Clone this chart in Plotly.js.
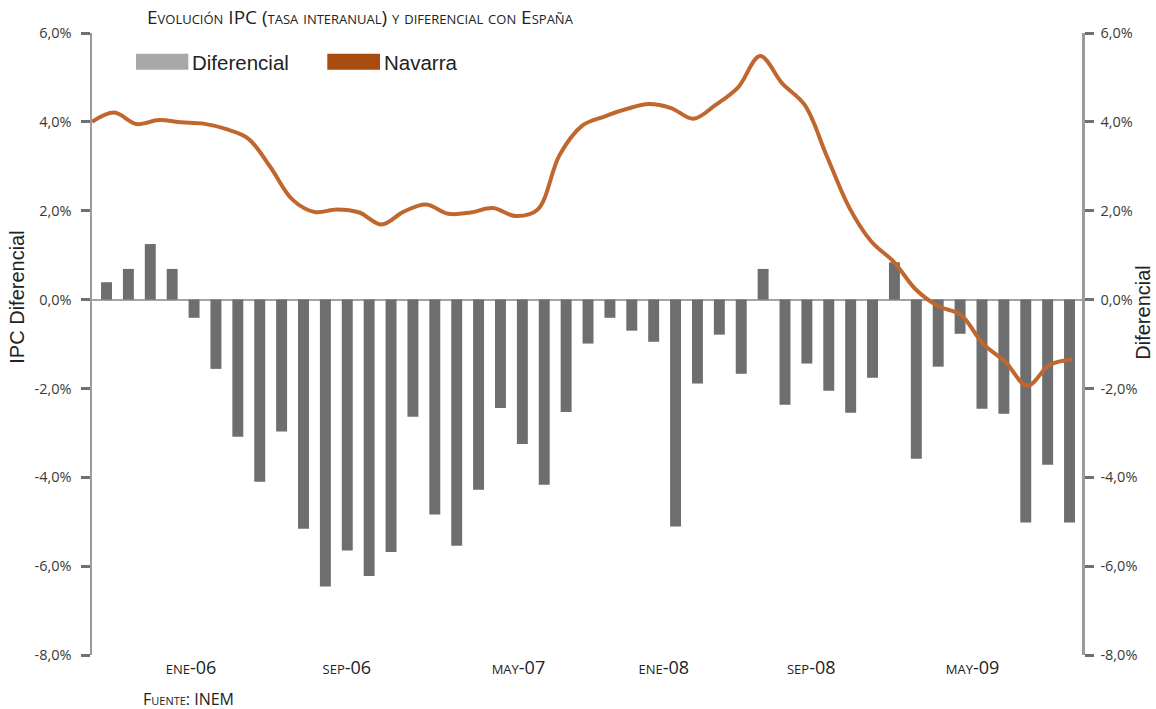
<!DOCTYPE html>
<html>
<head>
<meta charset="utf-8">
<script src="https://cdn.plot.ly/plotly-3.0.1.min.js"></script>
<style>
  html, body { margin: 0; padding: 0; background: #ffffff; }
  #chart { width: 1156px; height: 709px; }
</style>
</head>
<body>
<div id="chart"></div>
<script>
// Period index (one per observation)
const periodos = [0,1,2,3,4,5,6,7,8,9,10,11,12,13,14,15,16,17,18,19,20,21,22,23,24,25,26,27,28,29,30,31,32,33,34,35,36,37,38,39,40,41,42,43,44];

// Diferencial (bars, %)
const diferencial = [0.39, 0.69, 1.25, 0.69, -0.41, -1.56, -3.09, -4.10, -2.97, -5.16,
  -6.46, -5.65, -6.22, -5.68, -2.64, -4.84, -5.54, -4.28, -2.44, -3.25,
  -4.17, -2.53, -0.99, -0.41, -0.70, -0.95, -5.11, -1.89, -0.79, -1.67,
  0.69, -2.37, -1.44, -2.05, -2.55, -1.76, 0.84, -3.58, -1.51, -0.77,
  -2.46, -2.57, -5.02, -3.72, -5.02];

// Navarra IPC (line, %)
const navarra = [4.00, 4.21, 3.95, 4.04, 3.99, 3.96, 3.84, 3.63, 2.99, 2.25,
  1.97, 2.03, 1.96, 1.69, 1.98, 2.14, 1.93, 1.96, 2.06, 1.88,
  2.02, 3.26, 3.91, 4.12, 4.29, 4.40, 4.31, 4.07, 4.38, 4.77,
  5.48, 4.86, 4.38, 3.22, 2.07, 1.30, 0.85, 0.22, -0.15, -0.34,
  -0.99, -1.40, -1.94, -1.47, -1.35];

// X tick labels and where they sit on the period scale
const xTickLabels = ['ene-06', 'sep-06', 'may-07', 'ene-08', 'sep-08', 'may-09'];
const xTickPos = [3.86, 10.98, 18.82, 25.46, 32.2, 39.57];

// Y ticks
const yTickVals = [-8, -6, -4, -2, 0, 2, 4, 6];
const yTickLabels = ['-8,0%', '-6,0%', '-4,0%', '-2,0%', '0,0%', '2,0%', '4,0%', '6,0%'];

const barColor = '#6d6e70';
const legendBarColor = '#a7a8aa';
const lineColor = '#c0672f';
const legendLineColor = '#a94c12';

const traces = [
  {
    type: 'bar', name: 'Diferencial',
    x: periodos, y: diferencial,
    xaxis: 'x', yaxis: 'y',
    marker: { color: barColor, line: { width: 0 } },
    showlegend: false
  },
  {
    type: 'scatter', mode: 'lines', name: 'Navarra',
    x: periodos, y: navarra,
    xaxis: 'x2', yaxis: 'y2',
    line: { color: lineColor, width: 4, shape: 'spline', smoothing: 1 },
    cliponaxis: false,
    showlegend: false
  }
];

const axisFont = { family: 'Open Sans, sans-serif', size: 14.5, color: '#3a3a3a' };
const titleFont = { family: 'Liberation Sans, Arial, sans-serif', size: 20, color: '#222222' };
const plotL = 92, plotR = 1082, plotT = 33.3, plotB = 655.3;
const W = plotR - plotL, H = plotB - plotT;
const px = v => (v - plotL) / W;
const py = v => (plotB - v) / H;

const layout = {
  width: 1156, height: 709,
  margin: { l: plotL, r: 1156 - plotR, t: plotT, b: 709 - plotB, pad: 0 },
  paper_bgcolor: '#ffffff', plot_bgcolor: '#ffffff',
  showlegend: false,
  bargap: 0.5,
  title: {
    text: 'Evolución IPC (tasa interanual) y diferencial con España',
    font: { family: 'Open Sans, sans-serif', size: 19, color: '#222222', variant: 'small-caps' },
    xref: 'paper', x: px(147), xanchor: 'left',
    yref: 'container', y: 1 - 17 / 709, yanchor: 'middle'
  },
  xaxis: {
    range: [-0.663, 44.57],
    showgrid: false, zeroline: false, showline: false,
    ticks: '',
    tickmode: 'array', tickvals: xTickPos, ticktext: xTickLabels,
    tickfont: { family: 'Open Sans, sans-serif', size: 18, color: '#222222', variant: 'small-caps' },
    fixedrange: true
  },
  xaxis2: {
    overlaying: 'x', range: [0, 44.45], visible: false, fixedrange: true
  },
  yaxis: {
    range: [-8, 6],
    showgrid: false,
    zeroline: true, zerolinecolor: '#a3a3a3', zerolinewidth: 2,
    showline: true, linecolor: '#9b9b9b', linewidth: 2.5,
    ticks: 'outside', ticklen: 9, tickwidth: 3, tickcolor: '#6f6f6f',
    tickmode: 'array', tickvals: yTickVals, ticktext: yTickLabels,
    tickfont: axisFont, ticklabelstandoff: 6,
    fixedrange: true
  },
  yaxis2: {
    overlaying: 'y', side: 'right',
    range: [-8, 6],
    showgrid: false, zeroline: false,
    showline: true, linecolor: '#9b9b9b', linewidth: 2.5,
    ticks: 'outside', ticklen: 9, tickwidth: 3, tickcolor: '#6f6f6f',
    tickmode: 'array', tickvals: yTickVals, ticktext: yTickLabels,
    tickfont: axisFont, ticklabelstandoff: 4,
    fixedrange: true
  },
  shapes: [
    { type: 'rect', xref: 'paper', yref: 'paper', x0: px(136), x1: px(188.3), y0: py(70), y1: py(54),
      fillcolor: legendBarColor, line: { width: 0 } },
    { type: 'rect', xref: 'paper', yref: 'paper', x0: px(327.3), x1: px(380), y0: py(70), y1: py(54),
      fillcolor: legendLineColor, line: { width: 0 } }
  ],
  annotations: [
    { text: 'IPC Diferencial', xref: 'paper', yref: 'paper', x: px(17), y: py(298), xanchor: 'center', yanchor: 'middle',
      textangle: -90, showarrow: false, font: titleFont },
    { text: 'Diferencial', xref: 'paper', yref: 'paper', x: px(1143), y: py(313), xanchor: 'center', yanchor: 'middle',
      textangle: -90, showarrow: false, font: titleFont },
    { text: 'Diferencial', xref: 'paper', yref: 'paper', x: px(190), y: py(62.5), xanchor: 'left', yanchor: 'middle',
      showarrow: false, font: { family: 'Liberation Sans, Arial, sans-serif', size: 20.5, color: '#222222' } },
    { text: 'Navarra', xref: 'paper', yref: 'paper', x: px(382), y: py(62.5), xanchor: 'left', yanchor: 'middle',
      showarrow: false, font: { family: 'Liberation Sans, Arial, sans-serif', size: 20.5, color: '#222222' } },
    { text: 'Fuente: INEM', xref: 'paper', yref: 'paper', x: px(141), y: py(699), xanchor: 'left', yanchor: 'middle',
      showarrow: false, font: { family: 'Open Sans, sans-serif', size: 16, color: '#222222', variant: 'small-caps' } }
  ]
};

Plotly.newPlot('chart', traces, layout, { displayModeBar: false, staticPlot: true });
</script>
</body>
</html>
